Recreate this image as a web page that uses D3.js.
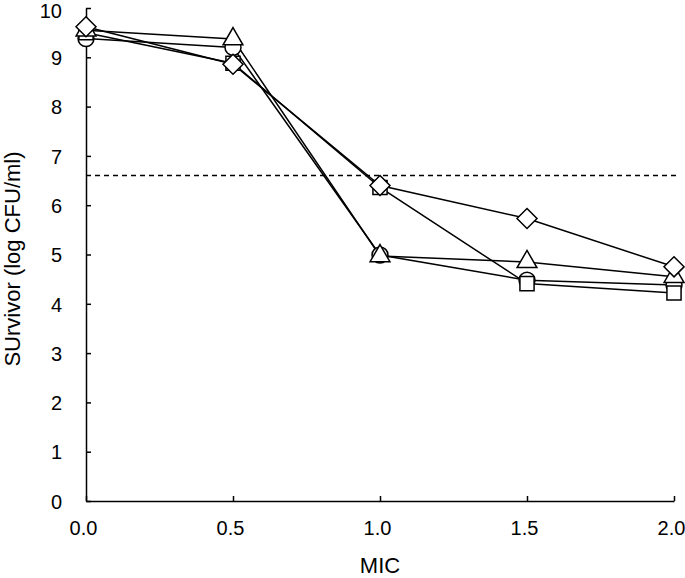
<!DOCTYPE html>
<html><head><meta charset="utf-8">
<script src="https://cdn.jsdelivr.net/npm/d3@7"></script>
<style>body{margin:0;background:#fff}svg{display:block;font-family:"Liberation Sans",Arial,sans-serif}</style>
</head><body><svg id="c" width="685" height="578"></svg>
<script>
const micLevels = [0.0, 0.5, 1.0, 1.5, 2.0];
const circleSeries   = [9.38, 9.20, 4.99, 4.48, 4.38];
const squareSeries   = [9.50, 8.88, 6.36, 4.41, 4.22];
const triangleSeries = [9.55, 9.37, 4.97, 4.85, 4.55];
const diamondSeries  = [9.62, 8.86, 6.40, 5.73, 4.75];
const thresholdValue = 6.6;
const xTicks = [0.0, 0.5, 1.0, 1.5, 2.0];
const yTicks = [0,1,2,3,4,5,6,7,8,9,10];

const squareDiamond = {
  draw(ctx, size){
    const r = Math.sqrt(size/2);
    ctx.moveTo(0,-r); ctx.lineTo(r,0); ctx.lineTo(0,r); ctx.lineTo(-r,0); ctx.closePath();
  }
};

const series = [
  {name:"circle", values:circleSeries, sym:d3.symbolCircle, size:200},
  {name:"square", values:squareSeries, sym:d3.symbolSquare, size:200},
  {name:"triangle", values:triangleSeries, sym:d3.symbolTriangle, size:170},
  {name:"diamond", values:diamondSeries, sym:squareDiamond, size:200}
];

const svg = d3.select("#c");
const x = d3.scaleLinear().domain([0,2]).range([86,674]);
const y = d3.scaleLinear().domain([0,10]).range([501,8]);

svg.append("line").attr("x1",x(0)).attr("x2",x(2.02)).attr("y1",y(thresholdValue)).attr("y2",y(thresholdValue))
  .attr("stroke","#000").attr("stroke-width",1.5).attr("stroke-dasharray","5,4");

const xAxis = svg.append("g").attr("transform",`translate(0,${y(0)})`)
  .call(d3.axisBottom(x).tickValues(xTicks).tickFormat(d3.format(".1f")).tickSizeInner(-5).tickSizeOuter(0).tickPadding(20));
const yAxis = svg.append("g").attr("transform",`translate(${x(0)},0)`)
  .call(d3.axisLeft(y).tickValues(yTicks).tickFormat(d3.format("d")).tickSizeInner(-5).tickSizeOuter(0).tickPadding(24));
[xAxis,yAxis].forEach(a=>{
  a.select(".domain").attr("stroke","#000").attr("stroke-width",1.5);
  a.selectAll(".tick line").attr("stroke","#000").attr("stroke-width",1.5);
  a.selectAll("text").attr("font-size",20).attr("fill","#000").attr("font-family","Liberation Sans, Arial, sans-serif");
});
xAxis.selectAll("text").attr("dx",-3);
yAxis.selectAll("text").attr("dy",d => d===10 ? "0.45em" : "0.36em");

const line = d3.line().x((d,i)=>x(micLevels[i])).y(d=>y(d));
series.forEach(s=>{
  svg.append("path").datum(s.values).attr("d",line).attr("fill","none").attr("stroke","#000").attr("stroke-width",1.5);
});
series.forEach(s=>{
  svg.append("g").selectAll("path").data(s.values).join("path")
    .attr("transform",(d,i)=>`translate(${x(micLevels[i])},${y(d)})`)
    .attr("d",d3.symbol().type(s.sym).size(s.size))
    .attr("fill","#fff").attr("stroke","#000").attr("stroke-width",1.5);
});

svg.append("text").attr("x",(x(0)+x(2))/2).attr("y",573).attr("text-anchor","middle")
  .attr("font-size",22).text("MIC");
svg.append("text").attr("transform",`translate(20,259) rotate(-90)`).attr("text-anchor","middle")
  .attr("font-size",22).text("SUrvivor (log CFU/ml)");
</script></body></html>
